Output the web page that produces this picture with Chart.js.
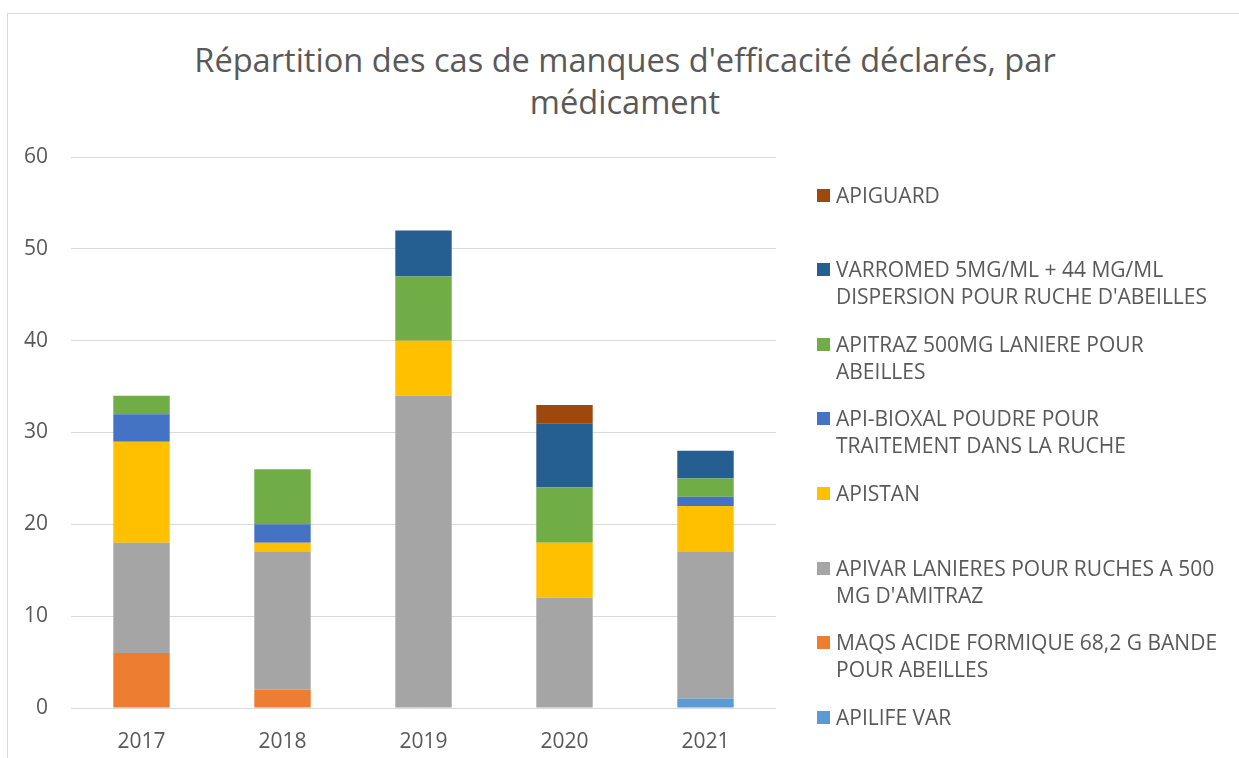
<!DOCTYPE html>
<html>
<head>
<meta charset="utf-8">
<script src="https://cdn.jsdelivr.net/npm/chart.js@4"></script>
<style>
  body { margin: 0; background: #fff; font-family: 'Open Sans', sans-serif; }
  #cadre { position: absolute; left: 7px; top: 13px; width: 1300px; height: 800px; border: 1px solid #d9d9d9; }
  #titre { position: absolute; left: 0; width: 1250px; top: 39px; text-align: center; color: #595959; font-size: 32.6px; line-height: 42px; }
  #zone { position: absolute; left: 0; top: 0; width: 1239px; height: 758px; }
  #legende { position: absolute; left: 0; top: 0; }
  .item { position: absolute; left: 817px; width: 407px; color: #595959; font-size: 21px; line-height: 27px; }
  .item span.carre { position: absolute; left: 0; top: 7px; width: 13px; height: 13px; }
  .item div { margin-left: 19px; }
</style>
</head>
<body>
<div id="cadre"></div>
<div id="titre">Répartition des cas de manques d'efficacité déclarés, par<br>médicament</div>
<div id="zone"><canvas id="graphique" width="1239" height="758"></canvas></div>
<div id="legende"></div>
<script>
// donnees
var annees = ['2017', '2018', '2019', '2020', '2021']

var medicaments = [
    'APILIFE VAR',
    'MAQS ACIDE FORMIQUE 68,2 G BANDE POUR ABEILLES',
    'APIVAR LANIERES POUR RUCHES A 500 MG D\'AMITRAZ',
    'APISTAN',
    'API-BIOXAL POUDRE POUR TRAITEMENT DANS LA RUCHE',
    'APITRAZ 500MG LANIERE POUR ABEILLES',
    'VARROMED 5MG/ML + 44 MG/ML DISPERSION POUR RUCHE D\'ABEILLES',
    'APIGUARD'
]

var apilife = [0, 0, 0, 0, 1]
var maqs = [6, 2, 0, 0, 0]
var apivar = [12, 15, 34, 12, 16]
var apistan = [11, 1, 6, 6, 5]
var bioxal = [3, 2, 0, 0, 1]
var apitraz = [2, 6, 7, 6, 2]
var varromed = [0, 0, 5, 7, 3]
var apiguard = [0, 0, 0, 2, 0]

var couleurs = ['#5B9BD5', '#ED7D31', '#A5A5A5', '#FFC000', '#4472C4', '#70AD47', '#255E91', '#9E480E']
var series = [apilife, maqs, apivar, apistan, bioxal, apitraz, varromed, apiguard]

var jeux = []
for (let i = 0; i < series.length; i++) {
    jeux.push({
        label: medicaments[i],
        data: series[i],
        backgroundColor: couleurs[i],
        borderWidth: 0,
        barPercentage: 0.4,
        categoryPercentage: 1
    })
}

const ctx = document.getElementById('graphique');

var monGraphique = new Chart(ctx, {
    type: 'bar',
    data: { labels: annees, datasets: jeux },
    options: {
        responsive: false,
        animation: false,
        layout: { padding: { left: 20, right: 463, top: 157, bottom: 0 } },
        scales: {
            x: {
                stacked: true,
                afterFit: function (axe) { axe.height = 50 },
                grid: { display: false },
                border: { display: false },
                ticks: { color: '#595959', font: { family: 'Open Sans', size: 21 }, padding: 13 }
            },
            y: {
                stacked: true,
                min: 0,
                max: 60,
                afterFit: function (axe) { axe.width = 51 },
                border: { display: false },
                grid: { color: '#d9d9d9', drawTicks: false },
                ticks: { stepSize: 10, color: '#595959', font: { family: 'Open Sans', size: 21 }, padding: 23 }
            }
        },
        plugins: {
            legend: { display: false },
            tooltip: { enabled: false }
        }
    }
});

// legende a droite, ordre inverse comme dans l'original
var legende = document.getElementById('legende')
for (let i = jeux.length - 1; i >= 0; i--) {
    let rang = jeux.length - 1 - i
    let el = document.createElement('div')
    el.className = 'item'
    el.style.top = (181.5 + rang * 74.6) + 'px'
    el.innerHTML = '<span class="carre" style="background:' + couleurs[i] + '"></span><div></div>'
    el.querySelector('div').textContent = medicaments[i]
    legende.appendChild(el)
}
</script>
</body>
</html>
